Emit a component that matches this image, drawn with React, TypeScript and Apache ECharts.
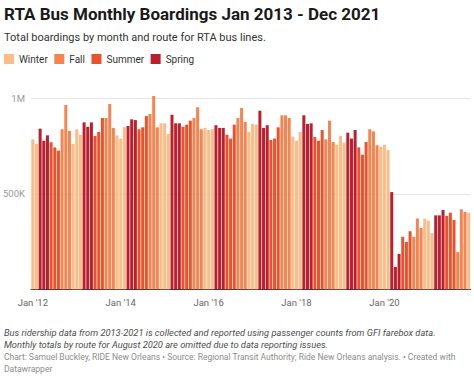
import React, { useEffect, useRef } from "react";
import * as echarts from "echarts";

// Monthly boardings (thousands), Jan..Dec
const years = [2012, 2013, 2014, 2015, 2016, 2017, 2018, 2019, 2020, 2021];
const b2012 = [785, 761, 841, 778, 806, 770, 743, 726, 838, 965, 830, 761];
const b2013 = [838, 809, 874, 851, 874, 803, 824, 897, 897, 970, 845, 806];
const b2014 = [789, 848, 855, 890, 886, 838, 848, 907, 918, 1012, 848, 869];
const b2015 = [869, 813, 914, 869, 869, 851, 862, 883, 897, 953, 838, 845];
const b2016 = [834, 838, 859, 845, 845, 809, 789, 862, 897, 949, 876, 824];
const b2017 = [866, 862, 935, 845, 859, 782, 789, 848, 911, 911, 897, 799];
const b2018 = [778, 824, 911, 866, 869, 797, 778, 834, 785, 883, 771, 756];
const b2019 = [803, 768, 820, 789, 834, 743, 705, 771, 838, 827, 754, 747];
const b2020 = [757, 729, 509, 117, 185, 275, 248, 304, 275, 371, 321, 370];
const b2021 = [359, 294, 387, 387, 415, 384, 401, 363, 195, 419, 405, 401];
const yearly = [b2012, b2013, b2014, b2015, b2016, b2017, b2018, b2019, b2020, b2021];

const monthNames = ["Jan", "Feb", "Mar", "Apr", "May", "Jun", "Jul", "Aug", "Sep", "Oct", "Nov", "Dec"];
const seasonOfMonth = ["Winter", "Winter", "Spring", "Spring", "Spring", "Summer", "Summer", "Summer", "Fall", "Fall", "Fall", "Winter"];
const seasons = ["Winter", "Fall", "Summer", "Spring"];
const seasonColors: Record<string, string> = {
  Winter: "#fdbb86",
  Fall: "#f9834f",
  Summer: "#e9522a",
  Spring: "#bd1e2d",
};
const yTickLabels: Record<number, string> = { 0: "", 500: "500K", 1000: "1M" };

const titleText = "RTA Bus Monthly Boardings Jan 2013 - Dec 2021";
const subtitleText = "Total boardings by month and route for RTA bus lines.";
const noteLines = [
  "Bus ridership data from 2013-2021 is collected and reported using passenger counts from GFI farebox data.",
  "Monthly totals by route for August 2020 are omitted due to data reporting issues.",
];
const creditLines = [
  "Chart: Samuel Buckley, RIDE New Orleans \u2022 Source: Regional Transit Authority; Ride New Orleans analysis. \u2022 Created with",
  "Datawrapper",
];

const FONT = "Roboto, 'Noto Sans', sans-serif";

function textBlock(text: string, centerY: number, size: number, color: string, weight = "normal", style = "normal") {
  const lh = Math.round(size * 1.2);
  return {
    text,
    left: 4,
    top: centerY - lh / 2,
    padding: 0,
    textStyle: {
      fontFamily: FONT,
      fontSize: size,
      fontWeight: weight,
      fontStyle: style,
      color,
      lineHeight: lh,
    },
  };
}

export default function App() {
  const ref = useRef<HTMLDivElement>(null);
  useEffect(() => {
    if (!ref.current) return;
    const chart = echarts.init(ref.current, null, { renderer: "svg" });

    const categories: string[] = [];
    const values: number[] = [];
    const monthIdx: number[] = [];
    years.forEach((y, yi) => {
      yearly[yi].forEach((v, m) => {
        categories.push(`${monthNames[m]} '${String(y).slice(2)}`);
        values.push(v);
        monthIdx.push(m);
      });
    });

    const series = seasons.map((s) => ({
      name: s,
      type: "bar",
      barWidth: 3,
      barGap: "-100%",
      clip: false,
      itemStyle: { color: seasonColors[s] },
      data: values.map((v, i) => (seasonOfMonth[monthIdx[i]] === s ? v : "-")),
    }));

    const titles: any[] = [
      textBlock(titleText, 13.5, 17, "#1a1a1a", "bold"),
      textBlock(subtitleText, 37.3, 11, "#333"),
      ...noteLines.map((t, i) => textBlock(t, 332.8 + i * 12, 9.3, "#4d4d4d", "normal", "italic")),
      ...creditLines.map((t, i) => textBlock(t, 357 + i * 12, 8.5, "#8c8c8c")),
    ];

    chart.setOption({
      animation: false,
      textStyle: { fontFamily: FONT },
      title: titles,
      legend: {
        data: seasons,
        left: 4,
        top: 54,
        padding: 0,
        icon: "rect",
        itemWidth: 10,
        itemHeight: 10,
        itemGap: 6.5,
        textStyle: { fontSize: 10, color: "#333", fontFamily: FONT },
      },
      grid: { left: 29.9, right: 3.5, top: 98.3, bottom: 87.7, containLabel: false },
      xAxis: {
        type: "category",
        data: categories,
        boundaryGap: true,
        axisLine: { lineStyle: { color: "#333", width: 1 } },
        axisTick: { alignWithLabel: true, interval: 23, length: 4, lineStyle: { color: "#333" } },
        axisLabel: { interval: 23, color: "#666", fontSize: 9.5, margin: 8, fontFamily: FONT },
      },
      yAxis: {
        type: "value",
        min: 0,
        max: 1000,
        interval: 500,
        axisLine: { show: false },
        axisTick: { show: false },
        splitLine: { lineStyle: { color: "#e6e6e6" } },
        axisLabel: {
          color: "#999",
          fontSize: 9.5,
          margin: 6,
          fontFamily: FONT,
          formatter: (v: number) => yTickLabels[v] ?? "",
        },
      },
      series,
    });
    return () => chart.dispose();
  }, []);
  return (
    <div
      ref={ref}
      style={{ position: "absolute", left: 0, top: 0, width: 474, height: 377, background: "#fff" }}
    />
  );
}
